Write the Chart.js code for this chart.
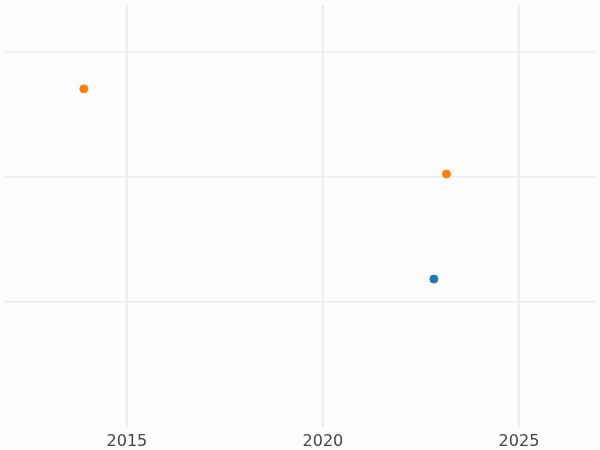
<!DOCTYPE html>
<html>
<head>
<script src="https://cdn.jsdelivr.net/npm/chart.js@4"></script>
<style>
  body { margin: 0; background: #fdfdfd; }
  #wrap { width: 600px; height: 450px; }
</style>
</head>
<body>
<div id="wrap"><canvas id="chart"></canvas></div>
<script>
// Point data
const orangeYears = [2013.9, 2023.15];
const orangeValues = [2.7, 2.02];
const blueYears = [2022.83];
const blueValues = [1.18];
const xTicks = [2015, 2020, 2025];

const toPoints = (xs, ys) => xs.map((x, i) => ({ x: x, y: ys[i] }));

new Chart(document.getElementById("chart"), {
  type: "scatter",
  data: {
    datasets: [
      {
        data: toPoints(orangeYears, orangeValues),
        backgroundColor: "#ff7f0e",
        borderColor: "#ff7f0e",
        pointRadius: 4,
      },
      {
        data: toPoints(blueYears, blueValues),
        backgroundColor: "#1f77b4",
        borderColor: "#1f77b4",
        pointRadius: 4,
      },
    ],
  },
  options: {
    responsive: true,
    maintainAspectRatio: false,
    animation: false,
    layout: { padding: { left: -6, right: -6, top: -6, bottom: -6 } },
    plugins: { legend: { display: false }, tooltip: { enabled: false } },
    scales: {
      x: {
        type: "linear",
        min: 2011.89,
        max: 2026.94,
        afterBuildTicks: (axis) => {
          axis.ticks = xTicks.map((v) => ({ value: v }));
        },
        grid: { color: "#e6e6e6", lineWidth: 1.5, drawTicks: false },
        border: { display: false },
        ticks: {
          padding: 5,
          color: "#444",
          font: { family: "DejaVu Sans", size: 16 },
          callback: (v) => String(v),
        },
      },
      y: {
        min: 0,
        max: 3.37,
        afterBuildTicks: (axis) => {
          axis.ticks = [1, 2, 3].map((v) => ({ value: v }));
        },
        grid: { color: "#ececec", lineWidth: 1.5, drawTicks: false },
        border: { display: false },
        ticks: { display: false },
      },
    },
  },
});
</script>
</body>
</html>
